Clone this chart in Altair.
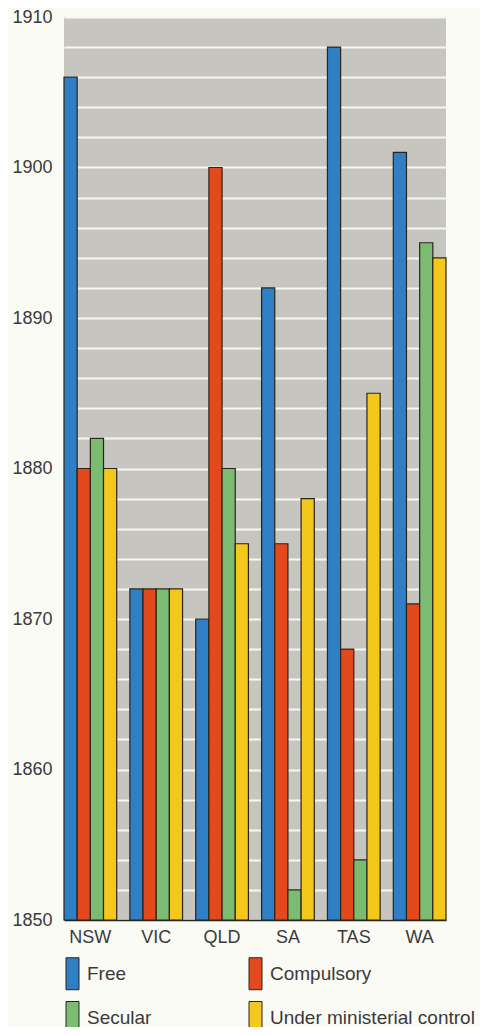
import altair as alt
import pandas as pd

states = ["NSW", "VIC", "QLD", "SA", "TAS", "WA"]
series = ["Free", "Compulsory", "Secular", "Under ministerial control"]
free = [1906, 1872, 1870, 1892, 1908, 1901]
compulsory = [1880, 1872, 1900, 1875, 1868, 1871]
secular = [1882, 1872, 1880, 1852, 1854, 1895]
ministerial = [1880, 1872, 1875, 1878, 1885, 1894]
colors = ["#2e7fc6", "#e2491d", "#7bbb72", "#f3c71c"]
y_ticks = list(range(1850, 1911, 2))

rows = []
for s, vals in zip(series, [free, compulsory, secular, ministerial]):
    for st, v in zip(states, vals):
        rows.append({"state": st, "series": s, "year": v})
df = pd.DataFrame(rows)

font = "Liberation Sans"
txt = "#3a3a3a"

chart = alt.Chart(df).mark_bar(
    stroke="#2b2418", strokeWidth=1.2
).encode(
    x=alt.X("state:N", sort=states, title=None,
            scale=alt.Scale(paddingInner=0.2, paddingOuter=0),
            axis=alt.Axis(labelAngle=0, labelFontSize=18, labelColor=txt,
                          labelFont=font, ticks=False, labelPadding=8,
                          domainColor="#2b2418", domainWidth=1.5)),
    xOffset=alt.XOffset("series:N", sort=series,
                        scale=alt.Scale(paddingInner=0, paddingOuter=0)),
    y=alt.Y("year:Q", title=None,
            scale=alt.Scale(domain=[1850, 1910], zero=False, nice=False),
            axis=alt.Axis(values=y_ticks,
                          labelExpr="datum.value % 10 == 0 ? datum.label : ''",
                          format="d", labelFontSize=18, labelColor=txt,
                          labelFont=font, ticks=False, domain=False,
                          grid=True, gridColor="#f7f7f2", gridWidth=2,
                          labelPadding=12)),
    y2=alt.datum(1850),
    color=alt.Color("series:N", sort=series,
                    scale=alt.Scale(domain=series, range=colors),
                    legend=alt.Legend(
                        title=None, orient="none", legendX=-1, legendY=947,
                        columns=2, direction="horizontal",
                        columnPadding=94, rowPadding=7,
                        symbolType="M-1,-2.46L1,-2.46L1,2.46L-1,2.46Z",
                        symbolSize=169, symbolStrokeColor="#2b2418",
                        symbolStrokeWidth=1, symbolOpacity=1,
                        labelFontSize=19, labelColor=txt, labelFont=font,
                        labelOffset=5, labelLimit=0)),
).properties(
    width=382, height=903,
    background="#fbfbf6",
    autosize=alt.AutoSizeParams(type="none"),
    padding={"left": 56, "top": 9, "right": 34, "bottom": 107},
).configure_view(
    fill="#c6c5c0", stroke=None
)

chart.save("out.html", embed_options={"renderer": "svg", "actions": False})
